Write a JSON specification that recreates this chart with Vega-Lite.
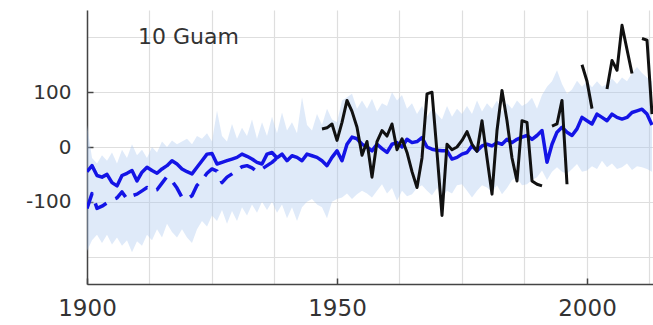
{
  "$schema": "https://vega.github.io/schema/vega-lite/v6.json",
  "width": 566,
  "height": 274,
  "autosize": {"type": "none"},
  "padding": {"left": 87, "top": 10, "right": 0, "bottom": 41},
  "background": "white",
  "config": {"view": {"stroke": null}, "font": "DejaVu Sans"},
  "data": {"values": [
    {"year":1900,"lower":-190,"upper":40,"mean":-45,"alt":-112,"obs":null},
    {"year":1901,"lower":-170,"upper":-20,"mean":-34,"alt":-85,"obs":null},
    {"year":1902,"lower":-160,"upper":-30,"mean":-52,"alt":-112,"obs":null},
    {"year":1903,"lower":-175,"upper":-15,"mean":-55,"alt":-108,"obs":null},
    {"year":1904,"lower":-160,"upper":-25,"mean":-50,"alt":-102,"obs":null},
    {"year":1905,"lower":-178,"upper":-10,"mean":-65,"alt":-97,"obs":null},
    {"year":1906,"lower":-165,"upper":-30,"mean":-71,"alt":-93,"obs":null},
    {"year":1907,"lower":-180,"upper":-5,"mean":-52,"alt":-82,"obs":null},
    {"year":1908,"lower":-170,"upper":-20,"mean":-48,"alt":-95,"obs":null},
    {"year":1909,"lower":-192,"upper":5,"mean":-43,"alt":-89,"obs":null},
    {"year":1910,"lower":-172,"upper":-15,"mean":-62,"alt":-86,"obs":null},
    {"year":1911,"lower":-180,"upper":-5,"mean":-46,"alt":-80,"obs":null},
    {"year":1912,"lower":-160,"upper":-20,"mean":-37,"alt":-74,"obs":null},
    {"year":1913,"lower":-170,"upper":0,"mean":-43,"alt":-80,"obs":null},
    {"year":1914,"lower":-150,"upper":-10,"mean":-48,"alt":-78,"obs":null},
    {"year":1915,"lower":-165,"upper":10,"mean":-40,"alt":-66,"obs":null},
    {"year":1916,"lower":-140,"upper":0,"mean":-34,"alt":-54,"obs":null},
    {"year":1917,"lower":-155,"upper":12,"mean":-25,"alt":-62,"obs":null},
    {"year":1918,"lower":-165,"upper":5,"mean":-31,"alt":-75,"obs":null},
    {"year":1919,"lower":-150,"upper":10,"mean":-40,"alt":-92,"obs":null},
    {"year":1920,"lower":-165,"upper":15,"mean":-45,"alt":-95,"obs":null},
    {"year":1921,"lower":-175,"upper":5,"mean":-49,"alt":-89,"obs":null},
    {"year":1922,"lower":-150,"upper":20,"mean":-37,"alt":-70,"obs":null},
    {"year":1923,"lower":-135,"upper":15,"mean":-25,"alt":-60,"obs":null},
    {"year":1924,"lower":-145,"upper":25,"mean":-13,"alt":-48,"obs":null},
    {"year":1925,"lower":-125,"upper":10,"mean":-12,"alt":-40,"obs":null},
    {"year":1926,"lower":-135,"upper":66,"mean":-31,"alt":-44,"obs":null},
    {"year":1927,"lower":-115,"upper":20,"mean":-28,"alt":-65,"obs":null},
    {"year":1928,"lower":-140,"upper":10,"mean":-25,"alt":-55,"obs":null},
    {"year":1929,"lower":-117,"upper":42,"mean":-22,"alt":-49,"obs":null},
    {"year":1930,"lower":-135,"upper":15,"mean":-19,"alt":-42,"obs":null},
    {"year":1931,"lower":-110,"upper":35,"mean":-13,"alt":-36,"obs":null},
    {"year":1932,"lower":-125,"upper":20,"mean":-17,"alt":-34,"obs":null},
    {"year":1933,"lower":-105,"upper":50,"mean":-22,"alt":-38,"obs":null},
    {"year":1934,"lower":-120,"upper":15,"mean":-28,"alt":-45,"obs":null},
    {"year":1935,"lower":-100,"upper":45,"mean":-31,"alt":-40,"obs":null},
    {"year":1936,"lower":-115,"upper":20,"mean":-13,"alt":-34,"obs":null},
    {"year":1937,"lower":-100,"upper":55,"mean":-10,"alt":-28,"obs":null},
    {"year":1938,"lower":-120,"upper":25,"mean":-20,"alt":-20,"obs":null},
    {"year":1939,"lower":-105,"upper":63,"mean":-13,"alt":null,"obs":null},
    {"year":1940,"lower":-130,"upper":30,"mean":-25,"alt":null,"obs":null},
    {"year":1941,"lower":-110,"upper":45,"mean":-16,"alt":null,"obs":null},
    {"year":1942,"lower":-135,"upper":25,"mean":-19,"alt":null,"obs":null},
    {"year":1943,"lower":-110,"upper":91,"mean":-25,"alt":null,"obs":null},
    {"year":1944,"lower":-100,"upper":40,"mean":-13,"alt":null,"obs":null},
    {"year":1945,"lower":-95,"upper":30,"mean":-16,"alt":null,"obs":null},
    {"year":1946,"lower":-105,"upper":60,"mean":-19,"alt":null,"obs":null},
    {"year":1947,"lower":-110,"upper":40,"mean":-25,"alt":null,"obs":33},
    {"year":1948,"lower":-130,"upper":70,"mean":-34,"alt":null,"obs":35},
    {"year":1949,"lower":-100,"upper":50,"mean":-19,"alt":null,"obs":42},
    {"year":1950,"lower":-95,"upper":45,"mean":-7,"alt":null,"obs":12},
    {"year":1951,"lower":-92,"upper":85,"mean":-25,"alt":null,"obs":45},
    {"year":1952,"lower":-85,"upper":91,"mean":5,"alt":null,"obs":85},
    {"year":1953,"lower":-95,"upper":97,"mean":18,"alt":null,"obs":65},
    {"year":1954,"lower":-86,"upper":70,"mean":15,"alt":null,"obs":36},
    {"year":1955,"lower":-80,"upper":85,"mean":5,"alt":null,"obs":-15},
    {"year":1956,"lower":-85,"upper":70,"mean":0,"alt":null,"obs":10},
    {"year":1957,"lower":-92,"upper":88,"mean":-7,"alt":null,"obs":-55},
    {"year":1958,"lower":-80,"upper":65,"mean":5,"alt":null,"obs":10},
    {"year":1959,"lower":-68,"upper":80,"mean":-3,"alt":null,"obs":30},
    {"year":1960,"lower":-85,"upper":75,"mean":-10,"alt":null,"obs":20},
    {"year":1961,"lower":-75,"upper":100,"mean":5,"alt":null,"obs":42},
    {"year":1962,"lower":-98,"upper":85,"mean":8,"alt":null,"obs":-5},
    {"year":1963,"lower":-80,"upper":95,"mean":0,"alt":null,"obs":15},
    {"year":1964,"lower":-90,"upper":70,"mean":14,"alt":null,"obs":-10},
    {"year":1965,"lower":-86,"upper":80,"mean":8,"alt":null,"obs":-45},
    {"year":1966,"lower":-75,"upper":60,"mean":10,"alt":null,"obs":-74},
    {"year":1967,"lower":-70,"upper":75,"mean":17,"alt":null,"obs":-20},
    {"year":1968,"lower":-80,"upper":55,"mean":0,"alt":null,"obs":97},
    {"year":1969,"lower":-88,"upper":70,"mean":-4,"alt":null,"obs":100},
    {"year":1970,"lower":-75,"upper":60,"mean":-6,"alt":null,"obs":-10},
    {"year":1971,"lower":-92,"upper":50,"mean":-7,"alt":null,"obs":-125},
    {"year":1972,"lower":-80,"upper":75,"mean":-7,"alt":null,"obs":5},
    {"year":1973,"lower":-85,"upper":55,"mean":-22,"alt":null,"obs":-5},
    {"year":1974,"lower":-70,"upper":70,"mean":-19,"alt":null,"obs":0},
    {"year":1975,"lower":-68,"upper":60,"mean":-13,"alt":null,"obs":12},
    {"year":1976,"lower":-80,"upper":75,"mean":-10,"alt":null,"obs":28},
    {"year":1977,"lower":-92,"upper":60,"mean":2,"alt":null,"obs":5},
    {"year":1978,"lower":-80,"upper":85,"mean":-7,"alt":null,"obs":-8},
    {"year":1979,"lower":-70,"upper":65,"mean":2,"alt":null,"obs":48},
    {"year":1980,"lower":-74,"upper":80,"mean":5,"alt":null,"obs":-20},
    {"year":1981,"lower":-82,"upper":70,"mean":2,"alt":null,"obs":-86},
    {"year":1982,"lower":-70,"upper":85,"mean":8,"alt":null,"obs":30},
    {"year":1983,"lower":-86,"upper":65,"mean":5,"alt":null,"obs":103},
    {"year":1984,"lower":-75,"upper":80,"mean":14,"alt":null,"obs":48},
    {"year":1985,"lower":-60,"upper":70,"mean":8,"alt":null,"obs":-20},
    {"year":1986,"lower":-56,"upper":85,"mean":14,"alt":null,"obs":-62},
    {"year":1987,"lower":-70,"upper":75,"mean":18,"alt":null,"obs":48},
    {"year":1988,"lower":-68,"upper":80,"mean":21,"alt":null,"obs":45},
    {"year":1989,"lower":-60,"upper":90,"mean":14,"alt":null,"obs":-62},
    {"year":1990,"lower":-55,"upper":70,"mean":21,"alt":null,"obs":-68},
    {"year":1991,"lower":-43,"upper":95,"mean":30,"alt":null,"obs":-71},
    {"year":1992,"lower":-60,"upper":110,"mean":-28,"alt":null,"obs":null},
    {"year":1993,"lower":-45,"upper":120,"mean":5,"alt":null,"obs":38},
    {"year":1994,"lower":-37,"upper":140,"mean":27,"alt":null,"obs":42},
    {"year":1995,"lower":-45,"upper":115,"mean":36,"alt":null,"obs":85},
    {"year":1996,"lower":-49,"upper":97,"mean":27,"alt":null,"obs":-68},
    {"year":1997,"lower":-40,"upper":105,"mean":21,"alt":null,"obs":null},
    {"year":1998,"lower":-31,"upper":121,"mean":33,"alt":null,"obs":null},
    {"year":1999,"lower":-45,"upper":110,"mean":54,"alt":null,"obs":150},
    {"year":2000,"lower":-43,"upper":120,"mean":48,"alt":null,"obs":120},
    {"year":2001,"lower":-35,"upper":109,"mean":42,"alt":null,"obs":70},
    {"year":2002,"lower":-40,"upper":120,"mean":60,"alt":null,"obs":null},
    {"year":2003,"lower":-25,"upper":110,"mean":54,"alt":null,"obs":null},
    {"year":2004,"lower":-37,"upper":115,"mean":48,"alt":null,"obs":106},
    {"year":2005,"lower":-30,"upper":125,"mean":60,"alt":null,"obs":158},
    {"year":2006,"lower":-40,"upper":115,"mean":54,"alt":null,"obs":140},
    {"year":2007,"lower":-37,"upper":127,"mean":51,"alt":null,"obs":222},
    {"year":2008,"lower":-30,"upper":120,"mean":54,"alt":null,"obs":178},
    {"year":2009,"lower":-42,"upper":135,"mean":63,"alt":null,"obs":134},
    {"year":2010,"lower":-35,"upper":146,"mean":66,"alt":null,"obs":null},
    {"year":2011,"lower":-37,"upper":135,"mean":69,"alt":null,"obs":198},
    {"year":2012,"lower":-40,"upper":127,"mean":60,"alt":null,"obs":195},
    {"year":2013,"lower":-45,"upper":120,"mean":40,"alt":null,"obs":60}
  ]},
  "layer": [
    {
      "mark": {"type": "area", "color": "#a6c6ee", "opacity": 0.36, "clip": true},
      "encoding": {
        "x": {"field": "year", "type": "quantitative",
          "scale": {"domain": [1900, 2013.2], "nice": false, "zero": false},
          "axis": {"title": null,
            "values": [1900, 1912.5, 1925, 1937.5, 1950, 1962.5, 1975, 1987.5, 2000, 2012.5],
            "labelExpr": "datum.value % 50 === 0 ? toString(datum.value) : ''",
            "labelOverlap": false, "labelFlush": false,
            "grid": true, "gridColor": "#dedede", "gridWidth": 1.2,
            "domainColor": "#444", "domainWidth": 1.5,
            "tickSize": -6, "tickWidth": 1.5,
            "tickColor": {"condition": {"test": "datum.value % 50 === 0", "value": "#444"}, "value": "transparent"},
            "labelFont": "DejaVu Sans", "labelFontSize": 23, "labelColor": "#333", "labelPadding": 19}},
        "y": {"field": "lower", "type": "quantitative",
          "scale": {"domain": [-250, 250], "nice": false},
          "axis": {"title": null,
            "values": [-200, -150, -100, -50, 0, 50, 100, 150, 200],
            "labelExpr": "(datum.value === 0 || abs(datum.value) === 100) ? toString(datum.value) : ''",
            "labelOverlap": false, "labelFlush": false,
            "grid": true, "gridColor": "#dedede", "gridWidth": 1.2,
            "domainColor": "#444", "domainWidth": 1.5,
            "tickSize": -6, "tickWidth": 1.5,
            "tickColor": {"condition": {"test": "datum.value === 0 || abs(datum.value) === 100", "value": "#444"}, "value": "transparent"},
            "labelFont": "DejaVu Sans", "labelFontSize": 20, "labelColor": "#333", "labelPadding": 22}},
        "y2": {"field": "upper"}
      }
    },
    {
      "mark": {"type": "line", "color": "#1414e6", "strokeWidth": 3.5, "strokeJoin": "round", "clip": true},
      "encoding": {
        "x": {"field": "year", "type": "quantitative"},
        "y": {"field": "alt", "type": "quantitative"},
        "strokeDash": {"value": [16, 10]}
      }
    },
    {
      "mark": {"type": "line", "color": "#1414e6", "strokeWidth": 3.5, "strokeJoin": "round", "clip": true},
      "encoding": {
        "x": {"field": "year", "type": "quantitative"},
        "y": {"field": "mean", "type": "quantitative"}
      }
    },
    {
      "mark": {"type": "line", "color": "#111111", "strokeWidth": 3, "strokeJoin": "round", "clip": true},
      "encoding": {
        "x": {"field": "year", "type": "quantitative"},
        "y": {"field": "obs", "type": "quantitative"}
      }
    },
    {
      "data": {"values": [{}]},
      "mark": {"type": "text", "text": "10 Guam", "align": "left", "baseline": "middle", "font": "DejaVu Sans", "fontSize": 22, "color": "#333"},
      "encoding": {
        "x": {"datum": 1910.2, "type": "quantitative"},
        "y": {"datum": 200, "type": "quantitative"}
      }
    }
  ]
}
